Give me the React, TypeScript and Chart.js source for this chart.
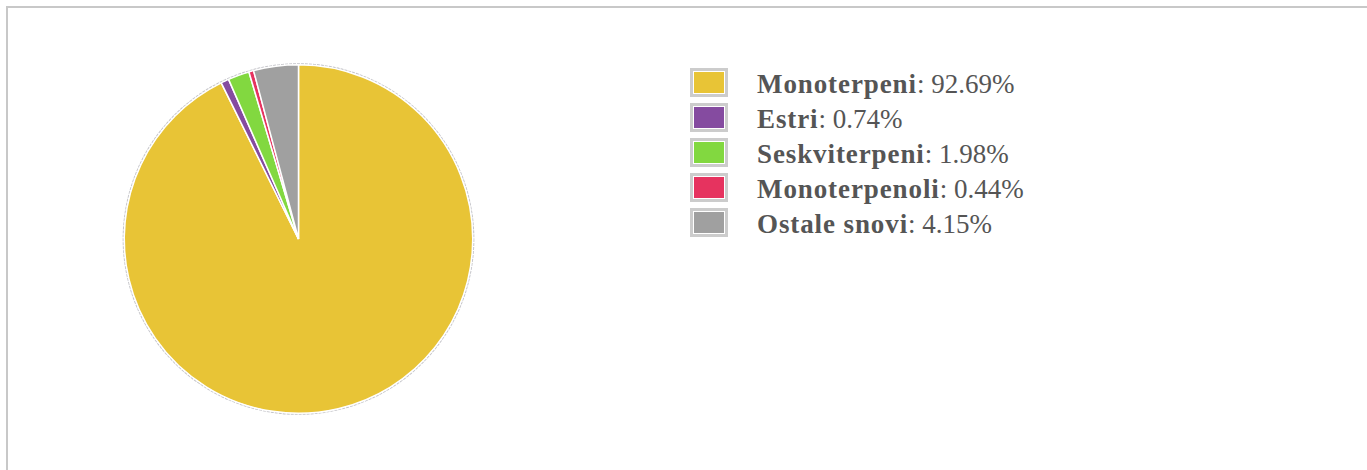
import React, { useEffect, useRef } from "react";
import { Chart, registerables } from "chart.js";

Chart.register(...registerables);

const categories: string[] = ["Monoterpeni", "Estri", "Seskviterpeni", "Monoterpenoli", "Ostale snovi"];
const values: number[] = [92.69, 0.74, 1.98, 0.44, 4.15];
const colors: string[] = ["#E8C436", "#854BA0", "#82D840", "#E6335F", "#A0A0A0"];

const outlinePlugin = {
  id: "outline",
  beforeDatasetsDraw(chart: any) {
    const meta = chart.getDatasetMeta(0);
    const arc = meta.data[0];
    if (!arc) return;
    const { x, y, outerRadius } = arc.getProps(["x", "y", "outerRadius"], true);
    const ctx = chart.ctx;
    ctx.save();
    ctx.beginPath();
    ctx.arc(x, y, outerRadius + 1, 0, Math.PI * 2);
    ctx.strokeStyle = "rgba(140,140,150,0.5)";
    ctx.lineWidth = 1.2;
    ctx.setLineDash([3, 1]);
    ctx.stroke();
    ctx.restore();
  },
};

export default function App() {
  const ref = useRef<HTMLCanvasElement | null>(null);
  useEffect(() => {
    if (!ref.current) return;
    const chart = new Chart(ref.current, {
      type: "pie",
      data: {
        labels: categories,
        datasets: [
          {
            data: values,
            backgroundColor: colors,
            borderColor: "#ffffff",
            borderWidth: 1.5,
          },
        ],
      },
      options: {
        responsive: false,
        animation: false,
        layout: { padding: { top: 56, bottom: 56, left: 0, right: 0 } },
        plugins: {
          legend: { display: false },
          tooltip: { enabled: false },
        },
      },
      plugins: [outlinePlugin],
    });
    return () => chart.destroy();
  }, []);

  return (
    <div style={{ position: "relative", width: 1340, height: 440 }}>
      <div style={{ position: "fixed", left: 6, top: 6, width: 1361, height: 2, background: "#c8c8c8" }} />
      <div style={{ position: "fixed", left: 6, top: 6, width: 2, height: 464, background: "#c8c8c8" }} />
      <canvas
        ref={ref}
        width={581}
        height={462}
        style={{ position: "absolute", left: 0, top: 0, width: 581, height: 462 }}
      />
      <div
        style={{
          position: "absolute",
          left: 682,
          top: 59,
          fontFamily: "'Liberation Serif', 'Times New Roman', serif",
          fontSize: 27,
          color: "#555555",
        }}
      >
        {categories.map((c, i) => (
          <div key={c} style={{ position: "relative", height: 35, lineHeight: "35px", whiteSpace: "nowrap" }}>
            <div
              style={{
                position: "absolute",
                left: 0,
                top: 1,
                width: 30,
                height: 21,
                border: "3px solid #cccccc",
                padding: 1,
                background: "#fff",
              }}
            >
              <div style={{ width: 30, height: 21, background: colors[i] }} />
            </div>
            <span style={{ position: "absolute", left: 67, top: 0 }}>
              <b style={{ letterSpacing: 0.9 }}>{c}</b>: {values[i].toFixed(2)}%
            </span>
          </div>
        ))}
      </div>
    </div>
  );
}
